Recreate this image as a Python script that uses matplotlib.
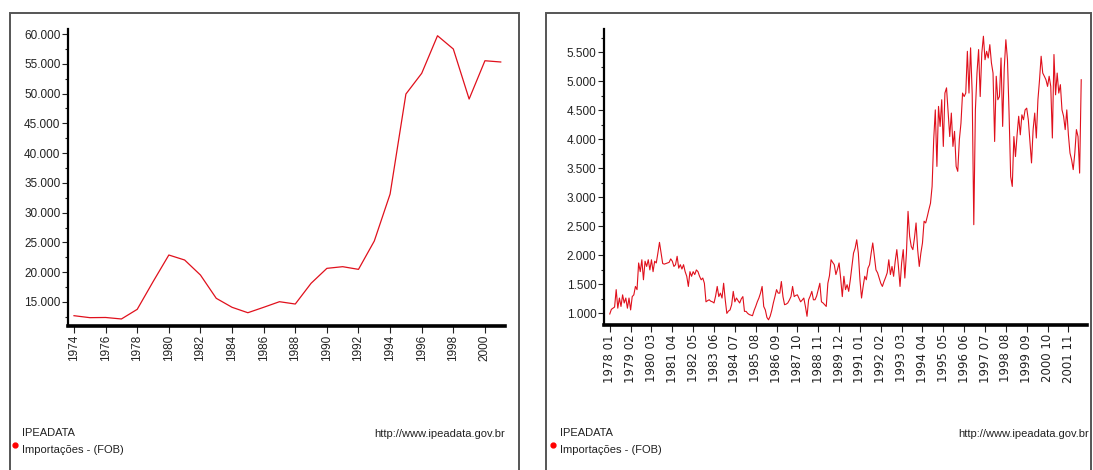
import numpy as np
import matplotlib
matplotlib.use('Agg')
import matplotlib.pyplot as plt
from matplotlib.ticker import FuncFormatter, MultipleLocator
from matplotlib.patches import Rectangle
from matplotlib.lines import Line2D

plt.rcParams['font.family'] = ['Liberation Sans', 'DejaVu Sans']

# annual imports (FOB), US$ million
years = list(range(1974, 2002))
annual = [12700, 12370, 12400, 12150, 13770, 18400, 22890, 22050, 19530, 15620,
          14110, 13200, 14110, 15050, 14660, 18140, 20650, 20930, 20480, 25240,
          33130, 49920, 53400, 59710, 57480, 49080, 55510, 55300]

# monthly imports (FOB), US$ million, from 1978 01
monthly_by_year = {
    1978: [990, 1070, 1090, 1110, 1410, 1090, 1265, 1120, 1320, 1180, 1265, 1090],
    1979: [1265, 1060, 1290, 1320, 1465, 1410, 1870, 1720, 1925, 1580, 1900, 1810],
    1980: [1925, 1750, 1925, 1720, 1900, 1870, 2040, 2225, 2040, 1860, 1850, 1860],
    1981: [1870, 1880, 1940, 1900, 1810, 1840, 1985, 1780, 1840, 1765, 1840, 1720],
    1982: [1640, 1465, 1720, 1640, 1720, 1670, 1750, 1720, 1640, 1580, 1610, 1520],
    1983: [1200, 1220, 1235, 1210, 1200, 1180, 1300, 1465, 1290, 1350, 1265, 1520],
    1984: [1235, 1000, 1040, 1060, 1150, 1380, 1200, 1265, 1220, 1180, 1250, 1290],
    1985: [1035, 1035, 1000, 980, 970, 960, 1050, 1120, 1200, 1265, 1350, 1465],
    1986: [1120, 1060, 930, 890, 950, 1050, 1180, 1290, 1410, 1350, 1350, 1550],
    1987: [1290, 1150, 1160, 1180, 1230, 1290, 1465, 1290, 1310, 1320, 1260, 1200],
    1988: [1230, 1265, 1120, 950, 1235, 1300, 1380, 1235, 1235, 1300, 1410, 1520],
    1989: [1200, 1180, 1150, 1120, 1520, 1650, 1925, 1880, 1840, 1670, 1760, 1870],
    1990: [1600, 1290, 1640, 1410, 1495, 1380, 1580, 1810, 2040, 2125, 2270, 2040],
    1991: [1580, 1265, 1465, 1640, 1580, 1780, 1840, 2040, 2215, 1985, 1750, 1700],
    1992: [1610, 1520, 1465, 1550, 1620, 1700, 1925, 1670, 1810, 1640, 1900, 2100],
    1993: [1810, 1465, 1870, 2100, 1610, 2040, 2760, 2330, 2155, 2100, 2300, 2560],
    1994: [2100, 1810, 2040, 2215, 2590, 2560, 2670, 2790, 2900, 3190, 3995, 4510],
    1995: [3535, 4570, 4225, 4685, 3880, 4800, 4890, 4455, 4050, 4455, 3880, 4140],
    1996: [3535, 3450, 3995, 4280, 4800, 4740, 4800, 5520, 4800, 5580, 4800, 2530],
    1997: [4510, 5145, 5550, 4740, 5490, 5780, 5375, 5520, 5405, 5635, 5320, 5145],
    1998: [3965, 5090, 4685, 4740, 5405, 4225, 5230, 5720, 5375, 4455, 3360, 3190],
    1999: [4050, 3705, 4080, 4400, 4080, 4425, 4340, 4510, 4540, 4340, 3965, 3595],
    2000: [4170, 4455, 4025, 4685, 5030, 5435, 5145, 5090, 5030, 4915, 5090, 4915],
    2001: [4025, 5465, 4770, 5145, 4800, 4945, 4510, 4400, 4170, 4510, 4080, 3765],
    2002: [3650, 3480, 3765, 4170, 4050, 3420, 5030],
}
monthly = [v for y in sorted(monthly_by_year) for v in monthly_by_year[y]]

left_yticks = list(range(15000, 60001, 5000))
left_xticks = list(range(1974, 2001, 2))
right_yticks = list(range(1000, 5501, 500))
right_xtick_idx = list(range(0, 287, 13))
right_xtick_labels = ['{} {:02d}'.format(1978 + i // 12, i % 12 + 1) for i in right_xtick_idx]

W, H = 1093, 470
fig = plt.figure(figsize=(W / 100, H / 100), dpi=100)
fig.patch.set_facecolor('white')

line_color = '#e0101c'
text_color = '#222222'
dot_fmt = FuncFormatter(lambda v, p: '{:,.0f}'.format(v).replace(',', '.'))


def px(x0, y0, x1, y1):
    # pixel box (left, top, right, bottom) -> figure fraction rect
    return [x0 / W, 1 - y1 / H, (x1 - x0) / W, (y1 - y0) / H]


def style_axes(ax):
    for s in ['top', 'right']:
        ax.spines[s].set_visible(False)
    ax.spines['left'].set_linewidth(1.6)
    ax.spines['bottom'].set_linewidth(2.6)
    ax.tick_params(axis='both', which='both', direction='out', colors=text_color,
                   labelsize=8.5, pad=1.5)
    ax.tick_params(axis='y', which='major', length=4, width=0.8)
    ax.tick_params(axis='y', which='minor', length=2.5, width=0.8)
    ax.tick_params(axis='x', which='major', length=5, width=0.8, labelrotation=90)
    ax.yaxis.set_major_formatter(dot_fmt)


# panel frames
for x0, x1 in [(10, 519), (546, 1091)]:
    fig.add_artist(Rectangle((x0 / W, -0.05), (x1 - x0) / W, 1.05 - 13 / H,
                             transform=fig.transFigure, fill=False,
                             edgecolor='#555555', linewidth=1.4))

# left chart: annual
ax1 = fig.add_axes(px(68, 29, 505, 326))
ax1.plot(years, annual, color=line_color, linewidth=0.9)
ax1.set_xlim(1973.62, 2001.27)
ax1.set_ylim(10970, 60840)
ax1.set_yticks(left_yticks)
ax1.yaxis.set_minor_locator(MultipleLocator(2500))
ax1.set_xticks(left_xticks)
ax1.set_xticklabels([str(y) for y in left_xticks], fontsize=9)
style_axes(ax1)

# right chart: monthly
ax2 = fig.add_axes(px(604, 29, 1087, 325))
ax2.plot(np.arange(len(monthly)), monthly, color=line_color, linewidth=0.8)
ax2.set_xlim(-3.6, 297.6)
ax2.set_ylim(800, 5905)
ax2.set_yticks(right_yticks)
ax2.yaxis.set_minor_locator(MultipleLocator(250))
ax2.set_xticks(right_xtick_idx)
ax2.set_xticklabels(right_xtick_labels, fontsize=10, family=['DejaVu Sans'])
style_axes(ax2)

# footers
for x_left, x_right in [(22, 505), (560, 1089)]:
    fig.text(x_left / W, 1 - 433 / H, 'IPEADATA', fontsize=8, color=text_color, va='center')
    fig.text(x_left / W, 1 - 450 / H, 'Importações - (FOB)', fontsize=8, color=text_color, va='center')
    fig.text(x_right / W, 1 - 434 / H, 'http://www.ipeadata.gov.br', fontsize=8,
             color=text_color, va='center', ha='right')
    fig.add_artist(Line2D([(x_left - 7) / W], [1 - 445 / H], marker='o', markersize=3.5,
                          color='red', transform=fig.transFigure))

fig.savefig('out.png', dpi=100, facecolor='white')
